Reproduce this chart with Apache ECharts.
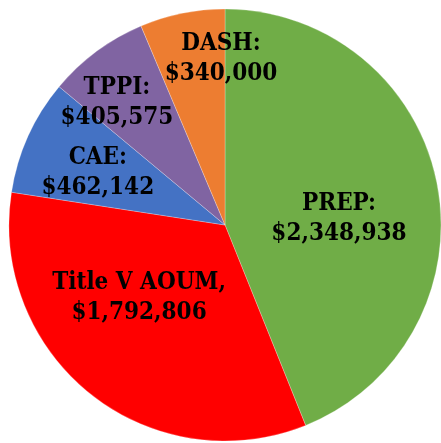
<!DOCTYPE html>
<html>
<head>
<meta charset="utf-8">
<script src="https://cdn.jsdelivr.net/npm/echarts@6/dist/echarts.min.js"></script>
<style>
    html, body { margin: 0; padding: 0; background: #fff; }
    #chartDom { width: 441px; height: 443px; }
</style>
</head>
<body>
<div id="chartDom"></div>
<script>
const names = ['PREP', 'Title V AOUM', 'CAE', 'TPPI', 'DASH'];
const values = [2348938, 1792806, 462142, 405575, 340000];
const separators = [':', ',', ':', ':', ':'];
const colors = ['#70AD47', '#FF0000', '#4472C4', '#8064A2', '#ED7D31'];
// nudges to put the labels where the original placed them
const labelOffsets = [[5, 15], [-17, -14], [-26, -7], [-42, -33], [18, -57]];

window.onload = function () {
    let chart = echarts.init(document.getElementById('chartDom'));

    let data = names.map((n, i) => ({
        name: n,
        value: values[i],
        itemStyle: { color: colors[i] },
        label: { offset: labelOffsets[i] }
    }));

    let option = {
        animation: false,
        series: [
            {
                type: 'pie',
                center: [225, 225],
                radius: 216,
                startAngle: 90,
                clockwise: true,
                avoidLabelOverlap: false,
                labelLayout: { hideOverlap: false },
                data: data,
                itemStyle: {
                    borderColor: 'rgba(255,255,255,0.5)',
                    borderWidth: 0.5
                },
                label: {
                    position: 'inside',
                    formatter: function (p) {
                        let v = '$' + p.value.toLocaleString('en-US');
                        return p.name + separators[p.dataIndex] + '\n' + v;
                    },
                    fontFamily: '"DejaVu Serif Condensed", "DejaVu Serif", serif',
                    fontWeight: 'bold',
                    fontSize: 24,
                    lineHeight: 30,
                    color: '#000',
                    align: 'center'
                },
                labelLine: { show: false }
            }
        ]
    };

    chart.setOption(option);
};
</script>
</body>
</html>
